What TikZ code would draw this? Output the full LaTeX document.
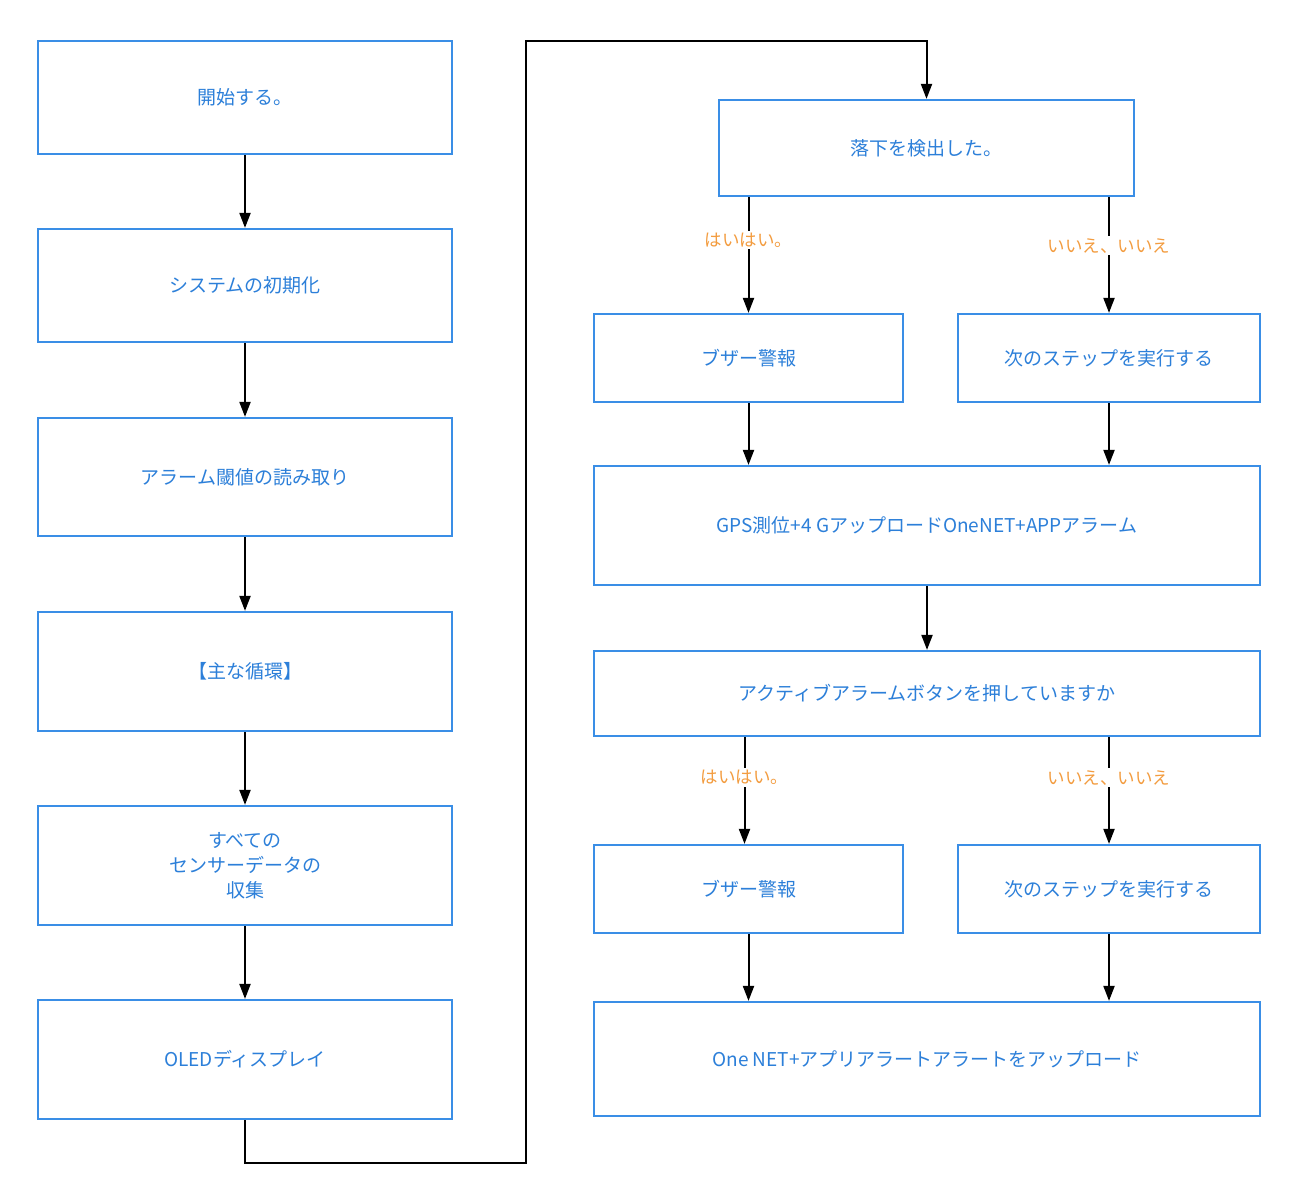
\documentclass[tikz,border=0pt]{standalone}
\usepackage{fontspec}
\setmainfont{Noto Sans CJK JP}
\usepackage{xcolor}
\usepackage{tikz}
\usetikzlibrary{arrows.meta}

\definecolor{boxblue}{HTML}{3A8EE6}
\definecolor{txtblue}{HTML}{2C7FD9}
\definecolor{lblorange}{HTML}{F39C3F}

\tikzset{
	stepbox/.style = {rectangle, draw=boxblue, line width=2.2pt, fill=white, text=txtblue,
		align=center, inner sep=0pt, font=\fontsize{19}{25}\selectfont},
	arr/.style = {line width=2pt, -{Triangle[length=15pt,width=11pt]}},
	lbl/.style = {fill=white, text=lblorange, inner sep=2pt, font=\fontsize{17.5}{20}\selectfont}
}

\begin{document}
\begin{tikzpicture}
				[x=1pt, y=1pt]
				\useasboundingbox (0,0) rectangle (1297,-1201);
				% left column
				\node[stepbox, minimum width=414pt, minimum height=113pt] (start) at (245,-97.5) {開始する。};
				\node[stepbox, minimum width=414pt, minimum height=113pt] (init) at (245,-285.5) {システムの初期化};
				\node[stepbox, minimum width=414pt, minimum height=118pt] (thresh) at (245,-477) {アラーム閾値の読み取り};
				\node[stepbox, minimum width=414pt, minimum height=119pt] (mainloop) at (245,-671.5) {【主な循環】};
				\node[stepbox, minimum width=414pt, minimum height=119pt] (collect) at (245,-865.5) {すべての\\センサーデータの\\収集};
				\node[stepbox, minimum width=414pt, minimum height=119pt] (oled) at (245,-1059.5) {OLEDディスプレイ};
				% right column
				\node[stepbox, minimum width=415pt, minimum height=96pt] (detect) at (926.5,-148) {落下を検出した。};
				\node[stepbox, minimum width=309pt, minimum height=88pt] (buzA) at (748.5,-358) {ブザー警報};
				\node[stepbox, minimum width=302pt, minimum height=88pt] (nextA) at (1109,-358) {次のステップを実行する};
				\node[stepbox, minimum width=666pt, minimum height=119pt] (gps) at (927,-525.5) {GPS測位+4 GアップロードOneNET+APPアラーム};
				\node[stepbox, minimum width=666pt, minimum height=85pt] (active) at (927,-693.5) {アクティブアラームボタンを押していますか};
				\node[stepbox, minimum width=309pt, minimum height=88pt] (buzB) at (748.5,-889) {ブザー警報};
				\node[stepbox, minimum width=302pt, minimum height=88pt] (nextB) at (1109,-889) {次のステップを実行する};
				\node[stepbox, minimum width=666pt, minimum height=114pt] (upload) at (927,-1059) {One NET+アプリアラートアラートをアップロード};
				\coordinate (turnA) at (526,-1163);
				\coordinate (turnB) at (526,-41);
				% connectors
				\draw[arr] (start)--(init);
				\draw[arr] (init)--(thresh);
				\draw[arr] (thresh)--(mainloop);
				\draw[arr] (mainloop)--(collect);
				\draw[arr] (collect)--(oled);
				\draw[arr] (oled.south) |- (turnA) -- (turnB) -| (detect.north);
				\draw[arr] (detect.south -| buzA.north) -- node[lbl, pos=0.37] {はいはい。} (buzA.north);
				\draw[arr] (detect.south -| nextA.north) -- node[lbl, pos=0.42] {いいえ、いいえ} (nextA.north);
				\draw[arr] (buzA.south) -- (buzA.south |- gps.north);
				\draw[arr] (nextA.south) -- (nextA.south |- gps.north);
				\draw[arr] (gps)--(active);
				\draw[arr] ([xshift=-4pt]active.south -| buzB.north) -- node[lbl, pos=0.38] {はいはい。} ([xshift=-4pt]buzB.north);
				\draw[arr] (active.south -| nextB.north) -- node[lbl, pos=0.38] {いいえ、いいえ} (nextB.north);
				\draw[arr] (buzB.south) -- (buzB.south |- upload.north);
				\draw[arr] (nextB.south) -- (nextB.south |- upload.north);
			\end{tikzpicture}
\end{document}
